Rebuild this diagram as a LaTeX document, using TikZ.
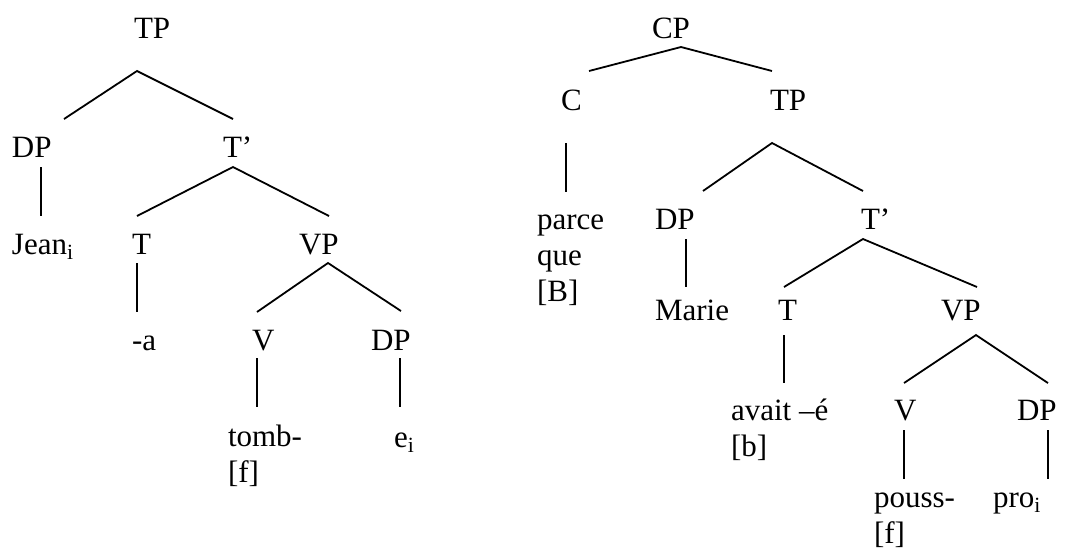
\documentclass[tikz,border=0pt]{standalone}
\usepackage{fontspec}
\setmainfont{Liberation Serif}
\begin{document}
\begin{tikzpicture}[x=1pt,y=-1pt,
  lab/.style={inner sep=0pt,outer sep=0pt,anchor=base west,align=left,
    font=\fontsize{31}{36}\selectfont},
  branch/.style={line width=1.8pt}]
\useasboundingbox (0,0) rectangle (1069,558);
% ---------- left tree ----------
\node[lab] (lTP) at (134,38) {TP};
\node[lab] (lDP) at (12,157) {DP};
\node[lab] (lTb) at (223,157) {T’};
\node[lab] (lJean) at (12,254) {Jean\textsubscript{i}};
\node[lab] (lT) at (132,254) {T};
\node[lab] (lVP) at (299,254) {VP};
\node[lab] (la) at (132,350) {-a};
\node[lab] (lV) at (252,350) {V};
\node[lab] (lDP2) at (371,350) {DP};
\node[lab] (ltomb) at (228,482) {tomb-\\{[f]}};
\node[lab] (le) at (394,447) {e\textsubscript{i}};
\coordinate (lTPa) at (137,71);
\coordinate (lDPt) at (64,119);
\coordinate (lTbt) at (233,119);
\coordinate (lDPb) at (41,167);
\coordinate (lJeant) at (41,216);
\coordinate (lTba) at (233,167);
\coordinate (lTt) at (137,216);
\coordinate (lVPt) at (329,216);
\coordinate (lTb2) at (137,263);
\coordinate (lat) at (137,312);
\coordinate (lVPa) at (328,263);
\coordinate (lVt) at (257,312);
\coordinate (lDP2t) at (401,311);
\coordinate (lVb) at (257,358);
\coordinate (ltombt) at (257,407);
\coordinate (lDP2b) at (400,358);
\coordinate (let) at (400,407);
\draw[branch] (lDPt) -- (lTPa) -- (lTbt);
\draw[branch] (lDPb) -- (lJeant);
\draw[branch] (lTt) -- (lTba) -- (lVPt);
\draw[branch] (lTb2) -- (lat);
\draw[branch] (lVt) -- (lVPa) -- (lDP2t);
\draw[branch] (lVb) -- (ltombt);
\draw[branch] (lDP2b) -- (let);
% ---------- right tree ----------
\node[lab] (rCP) at (652,38) {CP};
\node[lab] (rC) at (561,110) {C};
\node[lab] (rTP) at (770,110) {TP};
\node[lab] (rparce) at (537,301) {parce\\que\\{[B]}};
\node[lab] (rDP) at (655,229) {DP};
\node[lab] (rTb) at (861,229) {T’};
\node[lab] (rMarie) at (655,320) {Marie};
\node[lab] (rT) at (778,320) {T};
\node[lab] (rVP) at (941,320) {VP};
\node[lab] (ravait) at (731,456) {avait –é\\{[b]}};
\node[lab] (rV) at (894,420) {V};
\node[lab] (rDP2) at (1017,420) {DP};
\node[lab] (rpouss) at (874,543) {pouss-\\{[f]}};
\node[lab] (rpro) at (993,507) {pro\textsubscript{i}};
\coordinate (rCPa) at (681,47);
\coordinate (rCt) at (589,71);
\coordinate (rTPt) at (772,71);
\coordinate (rCb) at (566,143);
\coordinate (rparcet) at (566,192);
\coordinate (rTPa) at (772,143);
\coordinate (rDPt) at (703,191);
\coordinate (rTbt) at (863,191);
\coordinate (rDPb) at (686,239);
\coordinate (rMariet) at (686,287);
\coordinate (rTba) at (863,239);
\coordinate (rTt) at (784,287);
\coordinate (rVPt) at (977,287);
\coordinate (rTb2) at (784,335);
\coordinate (ravaitt) at (784,383);
\coordinate (rVPa) at (976,335);
\coordinate (rVt) at (904,383);
\coordinate (rDP2t) at (1048,383);
\coordinate (rVb) at (904,430);
\coordinate (rpousst) at (904,479);
\coordinate (rDP2b) at (1048,430);
\coordinate (rprot) at (1048,479);
\draw[branch] (rCt) -- (rCPa) -- (rTPt);
\draw[branch] (rCb) -- (rparcet);
\draw[branch] (rDPt) -- (rTPa) -- (rTbt);
\draw[branch] (rDPb) -- (rMariet);
\draw[branch] (rTt) -- (rTba) -- (rVPt);
\draw[branch] (rTb2) -- (ravaitt);
\draw[branch] (rVt) -- (rVPa) -- (rDP2t);
\draw[branch] (rVb) -- (rpousst);
\draw[branch] (rDP2b) -- (rprot);
\end{tikzpicture}
\end{document}
